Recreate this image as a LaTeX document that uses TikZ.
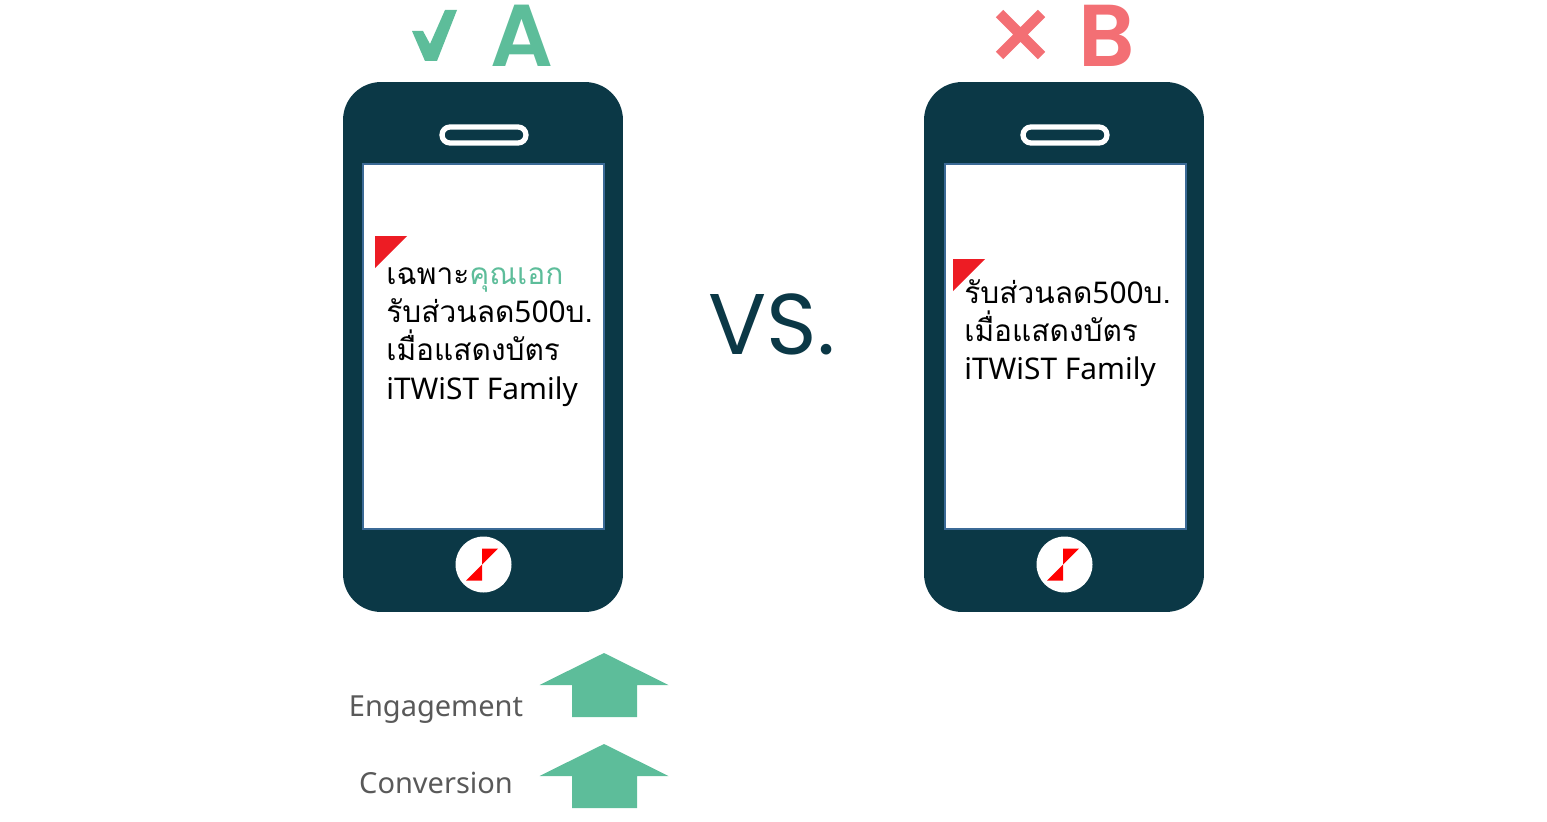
\documentclass[tikz,border=0pt]{standalone}
\usepackage{fontspec}
\setmainfont{Noto Sans}
\newfontfamily\thaifont[Script=Thai]{Loma}
\newfontfamily\headfont[BoldFont={* SemiBold}]{Poppins}
\definecolor{phonedark}{HTML}{0B3846}
\definecolor{screenline}{HTML}{3B6A96}
\definecolor{okgreen}{HTML}{5DBD9A}
\definecolor{badred}{HTML}{F36F74}
\definecolor{flagred}{HTML}{ED1C24}
\definecolor{labelgray}{HTML}{595959}
\begin{document}
\begin{tikzpicture}[x=0.02cm,y=-0.02cm]
\tikzset{phone/.style = {fill=phonedark, rounded corners=0.76cm, minimum width=5.6cm, minimum height=10.6cm, inner sep=0pt},
screen/.style = {draw=screenline, line width=1.1pt, fill=white, minimum width=4.82cm, minimum height=7.3cm, inner sep=0pt},
speaker/.style = {draw=white, line width=3pt, rounded corners=0.16cm, minimum width=1.68cm, minimum height=0.32cm, inner sep=0pt},
homekey/.style = {circle, fill=white, minimum size=1.12cm, inner sep=0pt},
msg/.style = {align=left, inner sep=0pt, font=\fontsize{17}{21.8}\selectfont},
head/.style = {inner sep=0pt, font=\fontsize{50}{50}\headfont\bfseries},
kpi/.style = {inner sep=0pt, anchor=base, text=labelgray, font=\fontsize{16.5}{20}\selectfont}}
\useasboundingbox (0,0) rectangle (1547,821);
% phones
\node[phone] (phoneA) at (483,347) {};
\node[screen] (screenA) at (483.5,346.5) {};
\node[speaker] (speakerA) at (484,135) {};
\node[homekey] (keyA) at (483.5,564.5) {};
\node[phone] (phoneB) at (1064,347) {};
\node[screen] (screenB) at (1065.5,346.5) {};
\node[speaker] (speakerB) at (1065,135) {};
\node[homekey] (keyB) at (1064.5,564.5) {};
% logo in the keys
\foreach \k in {keyA,keyB} {
\fill[red] ([shift={(-1.5,-16)}]\k.center) -- ++(16,0) -- ++(-16,16) -- cycle;
\fill[red] ([shift={(-1.5,16)}]\k.center) -- ++(-16,0) -- ++(16,-16) -- cycle;
}
% flags
\fill[flagred] (375,236) -- (407,236) -- (375,268) -- cycle;
\fill[flagred] (953,259) -- (985,259) -- (953,291) -- cycle;
% messages
\node[msg,anchor=north west] (msgA) at (386,267) {{\thaifont เฉพาะ\textcolor{okgreen}{คุณเอก}}\\{\thaifont รับส่วนลด}500{\thaifont บ.}\\{\thaifont เมื่อแสดงบัตร}\\iTWiST Family};
\node[msg,anchor=north west] (msgB) at (964,279) {{\thaifont รับส่วนลด}500{\thaifont บ.}\\{\thaifont เมื่อแสดงบัตร}\\iTWiST Family};
% heads
\fill[okgreen] (412,31) -- (423,31) -- (430,44) -- (445,10) -- (457,10) -- (437,61) -- (425,61) -- cycle;
\node[head,text=okgreen] (headA) at (522,36) {A};
\draw[badred, line width=6pt] (999.5,13.5) -- (1041.5,55.5) (1041.5,13.5) -- (999.5,55.5);
\node[head,text=badred] (headB) at (1107,36) {B};
\node[inner sep=0pt, text=phonedark, font=\fontsize{49}{49}\headfont] (vs) at (772,324.5) {VS.};
% arrows
\fill[okgreen] (604,653) -- (668.5,685) -- (637,685) -- (637,717) -- (572,717) -- (572,685) -- (539.5,685) -- cycle;
\fill[okgreen] (604,744) -- (668.5,776) -- (637,776) -- (637,808) -- (572,808) -- (572,776) -- (539.5,776) -- cycle;
\node[kpi] (engage) at (436,716) {Engagement};
\node[kpi] (conv) at (436,793) {Conversion};
\end{tikzpicture}
\end{document}
